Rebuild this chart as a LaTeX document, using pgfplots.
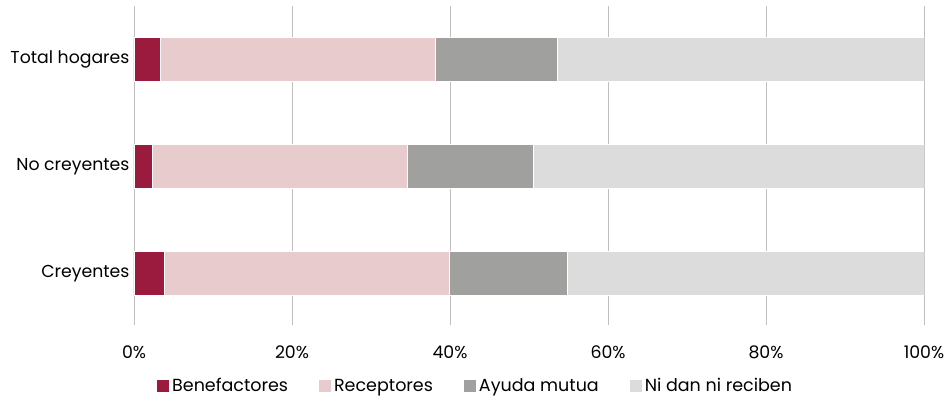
\documentclass[border=0pt]{standalone}
\usepackage{fontspec}
\setmainfont{Poppins}
\usepackage{pgfplots}
\pgfplotsset{compat=1.18}
\definecolor{cben}{HTML}{9B1B3F}
\definecolor{crec}{HTML}{E8CCCD}
\definecolor{cayu}{HTML}{A0A09E}
\definecolor{cni}{HTML}{DCDCDC}
\definecolor{cgrid}{HTML}{BFBFBF}
\begin{document}
\begin{tikzpicture}
\begin{axis}[
  at={(0,0)}, anchor=south west,
  scale only axis, width=790pt, height=319pt,
  xbar stacked, bar width=44pt,
  xmin=0, xmax=100, ymin=-0.48, ymax=2.5,
  ytick={0,1,2}, yticklabels={Creyentes,No creyentes,Total hogares},
  xtick={0,20,40,60,80,100},
  xticklabel={\pgfmathprintnumber{\tick}\%},
  /pgf/number format/assume math mode=true,
  axis line style={draw=none},
  major tick length=0pt,
  xmajorgrids, grid style={cgrid, line width=0.8pt},
  ticklabel style={font=\fontsize{17.3}{19}\selectfont, text=black},
  yticklabel style={xshift=-1pt},
  xticklabel style={yshift=-17pt},
  legend columns=4,
  legend style={draw=none, fill=none, at={(0.433,-0.191)}, anchor=center,
    font=\fontsize{17.5}{19}\selectfont,
    nodes={inner xsep=3pt},
    /tikz/every odd column/.append style={column sep=0pt},
    /tikz/every even column/.append style={column sep=28pt}},
  legend image code/.code={\fill[#1,draw=none] (0pt,-6pt) rectangle (12pt,6pt);},
  every axis plot/.append style={draw=white, line width=0.6pt},
]
\addplot[fill=cben] coordinates {(3.8,0) (2.3,1) (3.3,2)};
\addplot[fill=crec] coordinates {(36.1,0) (32.3,1) (34.9,2)};
\addplot[fill=cayu] coordinates {(15.0,0) (15.9,1) (15.4,2)};
\addplot[fill=cni] coordinates {(45.1,0) (49.5,1) (46.4,2)};
\legend{Benefactores,Receptores,Ayuda mutua,Ni dan ni reciben}
\end{axis}
\useasboundingbox (-134pt,-77pt) rectangle (818pt,325pt);
\end{tikzpicture}
\end{document}
